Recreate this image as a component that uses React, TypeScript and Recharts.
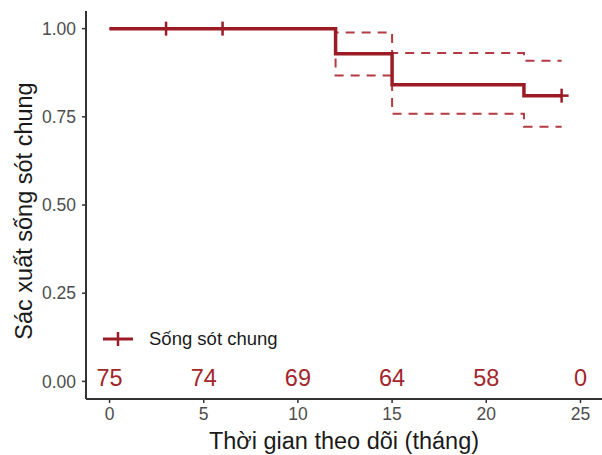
import { ComposedChart, Line, Scatter, XAxis, YAxis } from 'recharts';

// Kaplan-Meier step points (time in months)
const times = [0, 12, 15, 22, 24];
const survival = [1, 0.929, 0.841, 0.81, 0.81];
const upperCI = [1, 0.989, 0.931, 0.909, 0.909];
const lowerCI = [1, 0.867, 0.759, 0.722, 0.722];

// censored observations
const censorTimes = [3, 6, 24];
const censorSurv = [1, 1, 0.81];

// number at risk table
const riskTimes = [0, 5, 10, 15, 20, 25];
const atRisk = [75, 74, 69, 64, 58, 0];

const xTicks = [0, 5, 10, 15, 20, 25];
const yTicks = [0, 0.25, 0.5, 0.75, 1];

const RED = '#9b1c24';
const CI_RED = '#b23a44';
const FONT = '"Liberation Sans", Arial, sans-serif';

const curveData = times.map((t, i) => ({ time: t, surv: survival[i], upper: upperCI[i], lower: lowerCI[i] }));
const censorData = censorTimes.map((t, i) => ({ time: t, surv: censorSurv[i] }));
const riskData = riskTimes.map((t, i) => ({ time: t, y: 0, n: atRisk[i] }));

const CensorMark = (props: any) => {
  const { cx, cy } = props;
  return (
    <g>
      <line x1={cx - 7} x2={cx + 7} y1={cy} y2={cy} stroke={RED} strokeWidth={2.5} />
      <line x1={cx} x2={cx} y1={cy - 7} y2={cy + 7} stroke={RED} strokeWidth={2.5} />
    </g>
  );
};

const RiskLabel = (props: any) => {
  const { cx, cy, payload } = props;
  return (
    <text x={cx} y={cy - 3} textAnchor="middle" dominantBaseline="central" fill="#a3262d" fontSize={23.5} fontFamily={FONT}>
      {payload.n}
    </text>
  );
};

// legend drawn as an overlay so it does not shrink the plot area
const LegendBox = () => (
  <div style={{ position: 'absolute', left: 101, top: 328, display: 'flex', alignItems: 'center', fontFamily: FONT, fontSize: 18.5, color: '#1a1a1a' }}>
    <svg width={48} height={20}>
      <line x1={2} x2={32} y1={10} y2={10} stroke={RED} strokeWidth={3} />
      <line x1={17} x2={17} y1={3} y2={17} stroke={RED} strokeWidth={2.5} />
    </svg>
    <span>Sống sót chung</span>
  </div>
);

export default function App() {
  return (
    <div style={{ position: 'absolute', left: 0, top: 0, width: 602, height: 455, overflow: 'hidden', background: '#fff' }}>
      <ComposedChart width={604} height={455} margin={{ top: 11, right: 0, bottom: 0, left: 0 }}>
        <XAxis
          dataKey="time"
          type="number"
          domain={[-1.25, 26.25]}
          ticks={xTicks}
          allowDataOverflow
          height={56}
          axisLine={{ stroke: '#333', strokeWidth: 2 }}
          tickLine={{ stroke: '#333', strokeWidth: 1.5 }}
          tickSize={4}
          tickMargin={5}
          tick={{ fill: '#4d4d4d', fontSize: 17.5, fontFamily: FONT }}
          label={{
            content: () => (
              <text x={344} y={441} textAnchor="middle" dominantBaseline="central" fontSize={23.5} fontFamily={FONT} fill="#1a1a1a">
                Thời gian theo dõi (tháng)
              </text>
            ),
          }}
        />
        <YAxis
          type="number"
          domain={[-0.05, 1.05]}
          ticks={yTicks}
          allowDataOverflow
          width={86}
          axisLine={{ stroke: '#333', strokeWidth: 2 }}
          tickLine={{ stroke: '#333', strokeWidth: 1.5 }}
          tickSize={4}
          tickMargin={6}
          tickFormatter={(v: number) => v.toFixed(2)}
          tick={{ fill: '#4d4d4d', fontSize: 17.5, fontFamily: FONT }}
          label={{
            content: () => (
              <text transform="translate(24,211) rotate(-90)" textAnchor="middle" dominantBaseline="central" fontSize={23.5} fontFamily={FONT} fill="#1a1a1a">
                Sác xuất sống sót chung
              </text>
            ),
          }}
        />
        <Line data={curveData} dataKey="upper" type="stepAfter" stroke={CI_RED} strokeWidth={2} strokeDasharray="9 7" dot={false} activeDot={false} isAnimationActive={false} />
        <Line data={curveData} dataKey="lower" type="stepAfter" stroke={CI_RED} strokeWidth={2} strokeDasharray="9 7" dot={false} activeDot={false} isAnimationActive={false} />
        <Line data={curveData} dataKey="surv" type="stepAfter" stroke={RED} strokeWidth={3.5} dot={false} activeDot={false} isAnimationActive={false} />
        <Scatter data={censorData} dataKey="surv" shape={<CensorMark />} isAnimationActive={false} />
        <Scatter data={riskData} dataKey="y" shape={<RiskLabel />} isAnimationActive={false} />
      </ComposedChart>
      <LegendBox />
    </div>
  );
}
